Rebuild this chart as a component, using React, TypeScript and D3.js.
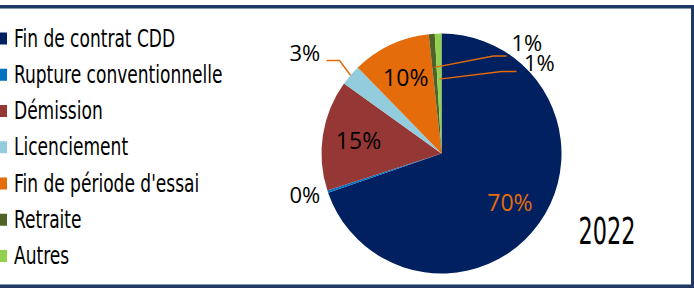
import React from "react";
import * as d3 from "d3";

const categories = [
  "Fin de contrat CDD",
  "Rupture conventionnelle",
  "Démission",
  "Licenciement",
  "Fin de période d'essai",
  "Retraite",
  "Autres",
];
const values = [69.7, 0.3, 14.9, 2.8, 10.6, 0.8, 0.9];
const labels = ["70%", "0%", "15%", "3%", "10%", "1%", "1%"];
const colors = ["#002060", "#0070C0", "#953735", "#93CDDD", "#E46C0A", "#4F6228", "#92D050"];
const yearLabel = "2022";

const W = 694;
const H = 288;
const cx = 441.5;
const cy = 153.5;
const R = 120;
const ORANGE = "#E46C0A";
const labelFont = "'Open Sans', 'Liberation Sans', sans-serif";
const legendFont = "'DejaVu Sans Condensed', 'DejaVu Sans', sans-serif";

type Outer = { idx: number; lx: number; ly: number; leader?: { r0: number; elbow: [number, number]; end: [number, number] } };
const outerLayout: Outer[] = [
  { idx: 1, lx: -152, ly: 49 },
  { idx: 3, lx: -152, ly: -93, leader: { r0: 1.0, elbow: [-102, -93], end: [-115, -93] } },
  { idx: 5, lx: 70, ly: -103, leader: { r0: 0.72, elbow: [52, -97.5], end: [65, -97.5] } },
  { idx: 6, lx: 82.5, ly: -82.5, leader: { r0: 0.62, elbow: [60, -82], end: [75, -82] } },
];

export default function App() {
  const pie = d3.pie<number>().sort(null).value((d) => d);
  const arcs = pie(values);
  const arc = d3.arc<d3.PieArcDatum<number>>().innerRadius(0).outerRadius(R);
  const labelArc = d3.arc<d3.PieArcDatum<number>>().innerRadius(R * 0.7).outerRadius(R * 0.7);
  const inner = [0, 2, 4];
  const legendY = d3.scaleLinear().domain([0, categories.length - 1]).range([38.5, 256]);

  const pt = (a: d3.PieArcDatum<number>, rf: number): [number, number] => {
    const m = (a.startAngle + a.endAngle) / 2;
    return [Math.sin(m) * R * rf, -Math.cos(m) * R * rf];
  };

  return (
    <svg width={W} height={H} style={{ position: "absolute", left: 0, top: 0, background: "#fff" }}>
      <rect x={0} y={0} width={W} height={H} fill="#fff" />
      <rect x={-10} y={6.5} width={702.5} height={280} fill="none" stroke="#1F3864" strokeWidth={3} />
      <line x1={0} x2={691} y1={8.5} y2={8.5} stroke="#8497B0" strokeWidth={1} />
      <line x1={0} x2={691} y1={284.5} y2={284.5} stroke="#8497B0" strokeWidth={1} />

      <g transform={`translate(${cx},${cy})`}>
        {arcs.map((a, i) => (
          <path key={i} d={arc(a) || ""} fill={colors[i]} />
        ))}
        {inner.map((i) => {
          const [x, y] = labelArc.centroid(arcs[i]);
          return (
            <text
              key={i}
              x={x}
              y={y + 8.7}
              textAnchor="middle"
              fontFamily={labelFont}
              fontSize={23}
              fill={i === 0 ? ORANGE : "#000"}
            >
              {labels[i]}
            </text>
          );
        })}
        {outerLayout.map((o) => {
          const a = arcs[o.idx];
          let path = null;
          if (o.leader) {
            const s = pt(a, o.leader.r0);
            const p = d3.path();
            p.moveTo(s[0], s[1]);
            p.lineTo(o.leader.elbow[0], o.leader.elbow[1]);
            p.lineTo(o.leader.end[0], o.leader.end[1]);
            path = <path d={p.toString()} fill="none" stroke={ORANGE} strokeWidth={1.5} />;
          }
          return (
            <g key={o.idx}>
              {path}
              <text x={o.lx} y={o.ly} fontFamily={labelFont} fontSize={22} fill="#000">
                {labels[o.idx]}
              </text>
            </g>
          );
        })}
      </g>

      {categories.map((c, i) => (
        <g key={c} transform={`translate(0,${legendY(i)})`}>
          <rect x={-4} y={-6} width={11} height={12} fill={colors[i]} />
          <text
            transform="translate(14,8) scale(0.79,1.05)"
            fontFamily={legendFont}
            fontSize={24}
            fill="#000"
          >
            {c}
          </text>
        </g>
      ))}

      <text
        x={578.5}
        y={244.3}
        fontFamily={legendFont}
        fontSize={37}
        textLength={57}
        lengthAdjust="spacingAndGlyphs"
        fill="#000"
      >
        {yearLabel}
      </text>
    </svg>
  );
}
